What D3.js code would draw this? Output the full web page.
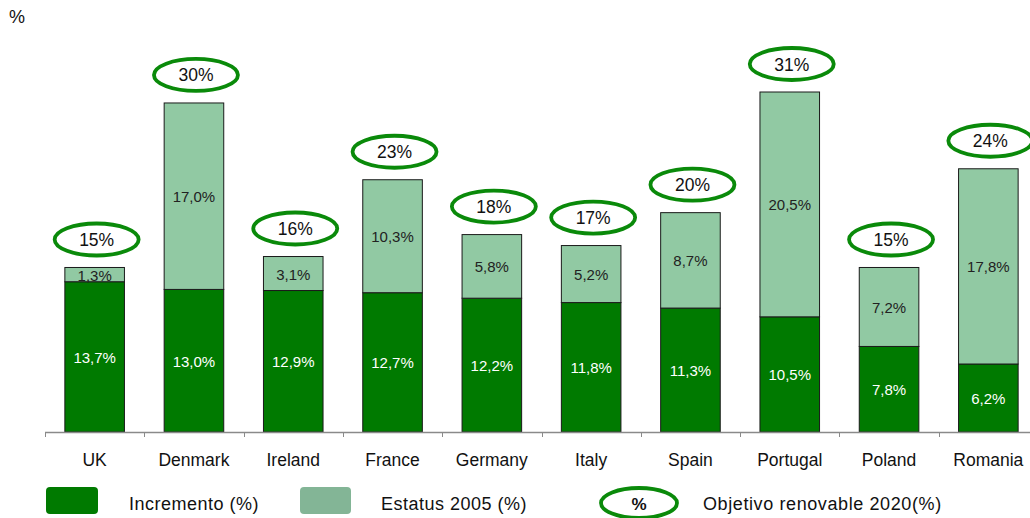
<!DOCTYPE html>
<html>
<head>
<meta charset="utf-8">
<script src="https://cdn.jsdelivr.net/npm/d3@7"></script>
<style>
  html, body { margin: 0; padding: 0; background: #fff; }
  svg { display: block; font-family: "Liberation Sans", Arial, sans-serif; }
</style>
</head>
<body>
<svg id="chart" width="1030" height="518"></svg>
<script>
// Renewable energy share by country: increment, 2005 status and 2020 target
const countries = ["UK", "Denmark", "Ireland", "France", "Germany", "Italy", "Spain", "Portugal", "Poland", "Romania"];
const incremento = [13.7, 13.0, 12.9, 12.7, 12.2, 11.8, 11.3, 10.5, 7.8, 6.2];
const estatus2005 = [1.3, 17.0, 3.1, 10.3, 5.8, 5.2, 8.7, 20.5, 7.2, 17.8];
const objetivo2020 = [15, 30, 16, 23, 18, 17, 20, 31, 15, 24];

const DARK = "#007a00";
const LIGHT = "#91c9a3";
const LIGHT_LEGEND = "#83b596";
const RING = "#0a8a0a";

const svg = d3.select("#chart");
const fmt = v => v.toFixed(1).replace(".", ",") + "%";

const x = d3.scaleBand().domain(countries).range([45, 1038]).paddingInner(0.4).paddingOuter(0.2);
const y = d3.scaleLinear().domain([0, 31]).range([432, 92]);

// unit label
svg.append("text").attr("x", 9).attr("y", 23).attr("font-size", 18).attr("fill", "#111").text("%");

const rows = countries.map((c, i) => ({ c, inc: incremento[i], est: estatus2005[i], obj: objetivo2020[i] }));

const g = svg.append("g");

// lower segment: increment
g.selectAll("rect.inc").data(rows).join("rect")
  .attr("class", "inc")
  .attr("x", d => x(d.c)).attr("width", x.bandwidth())
  .attr("y", d => y(d.inc)).attr("height", d => y(0) - y(d.inc))
  .attr("fill", DARK).attr("stroke", "#1a1a1a").attr("stroke-width", 1);

// upper segment: status 2005
g.selectAll("rect.est").data(rows).join("rect")
  .attr("class", "est")
  .attr("x", d => x(d.c)).attr("width", x.bandwidth())
  .attr("y", d => y(d.inc + d.est)).attr("height", d => y(d.inc) - y(d.inc + d.est))
  .attr("fill", LIGHT).attr("stroke", "#1a1a1a").attr("stroke-width", 1);

// segment labels
g.selectAll("text.inc").data(rows).join("text")
  .attr("x", d => x(d.c) + x.bandwidth() / 2)
  .attr("y", d => (y(0) + y(d.inc)) / 2 + 6)
  .attr("text-anchor", "middle").attr("font-size", 15).attr("fill", "#fff")
  .text(d => fmt(d.inc));

g.selectAll("text.est").data(rows).join("text")
  .attr("x", d => x(d.c) + x.bandwidth() / 2)
  .attr("y", d => (y(d.inc) + y(d.inc + d.est)) / 2 + 6)
  .attr("text-anchor", "middle").attr("font-size", 15).attr("fill", "#222")
  .text(d => fmt(d.est));

// 2020 target rings above each bar
const ringY = d => y(d.obj) - 28;
g.selectAll("ellipse.obj").data(rows).join("ellipse")
  .attr("cx", d => x(d.c) + x.bandwidth() / 2 + 2)
  .attr("cy", ringY)
  .attr("rx", 42).attr("ry", 16)
  .attr("fill", "#fff").attr("stroke", RING).attr("stroke-width", 3.8);

g.selectAll("text.obj").data(rows).join("text")
  .attr("x", d => x(d.c) + x.bandwidth() / 2 + 2)
  .attr("y", d => ringY(d) + 6.5)
  .attr("text-anchor", "middle").attr("font-size", 17.5).attr("fill", "#111")
  .text(d => d.obj + "%");

// category axis
const axisG = svg.append("g").attr("transform", "translate(0,432)");
axisG.append("line").attr("x1", 45).attr("x2", 1030).attr("y1", 0.5).attr("y2", 0.5)
  .attr("stroke", "#8a8a8a").attr("stroke-width", 1.5);
const bounds = countries.map(c => x(c) - x.step() * x.paddingInner() / 2);
bounds[0] = 45;
axisG.selectAll("line.tick").data(bounds).join("line")
  .attr("class", "tick")
  .attr("x1", d => Math.round(d) + 0.5).attr("x2", d => Math.round(d) + 0.5)
  .attr("y1", 0).attr("y2", 5).attr("stroke", "#8a8a8a").attr("stroke-width", 1);
axisG.selectAll("text").data(countries).join("text")
  .attr("x", c => x(c) + x.bandwidth() / 2)
  .attr("y", 34).attr("text-anchor", "middle").attr("font-size", 17.5).attr("fill", "#111")
  .text(c => c);

// legend
const lg = svg.append("g");
lg.append("rect").attr("x", 46).attr("y", 487).attr("width", 52).attr("height", 27).attr("rx", 4)
  .attr("fill", DARK);
lg.append("text").attr("x", 129).attr("y", 510).attr("font-size", 18).attr("letter-spacing", 0.5)
  .attr("fill", "#111").text("Incremento (%)");
lg.append("rect").attr("x", 300).attr("y", 487).attr("width", 51).attr("height", 27).attr("rx", 4)
  .attr("fill", LIGHT_LEGEND);
lg.append("text").attr("x", 381).attr("y", 510).attr("font-size", 18).attr("letter-spacing", 0.5)
  .attr("fill", "#111").text("Estatus 2005 (%)");
lg.append("ellipse").attr("cx", 639).attr("cy", 503).attr("rx", 38).attr("ry", 15)
  .attr("fill", "#fff").attr("stroke", RING).attr("stroke-width", 3.8);
lg.append("text").attr("x", 639).attr("y", 510).attr("text-anchor", "middle").attr("font-size", 17)
  .attr("font-weight", "bold").attr("fill", "#111").text("%");
lg.append("text").attr("x", 703).attr("y", 510).attr("font-size", 18).attr("letter-spacing", 0.6)
  .attr("fill", "#111").text("Objetivo renovable 2020(%)");
</script>
</body>
</html>
